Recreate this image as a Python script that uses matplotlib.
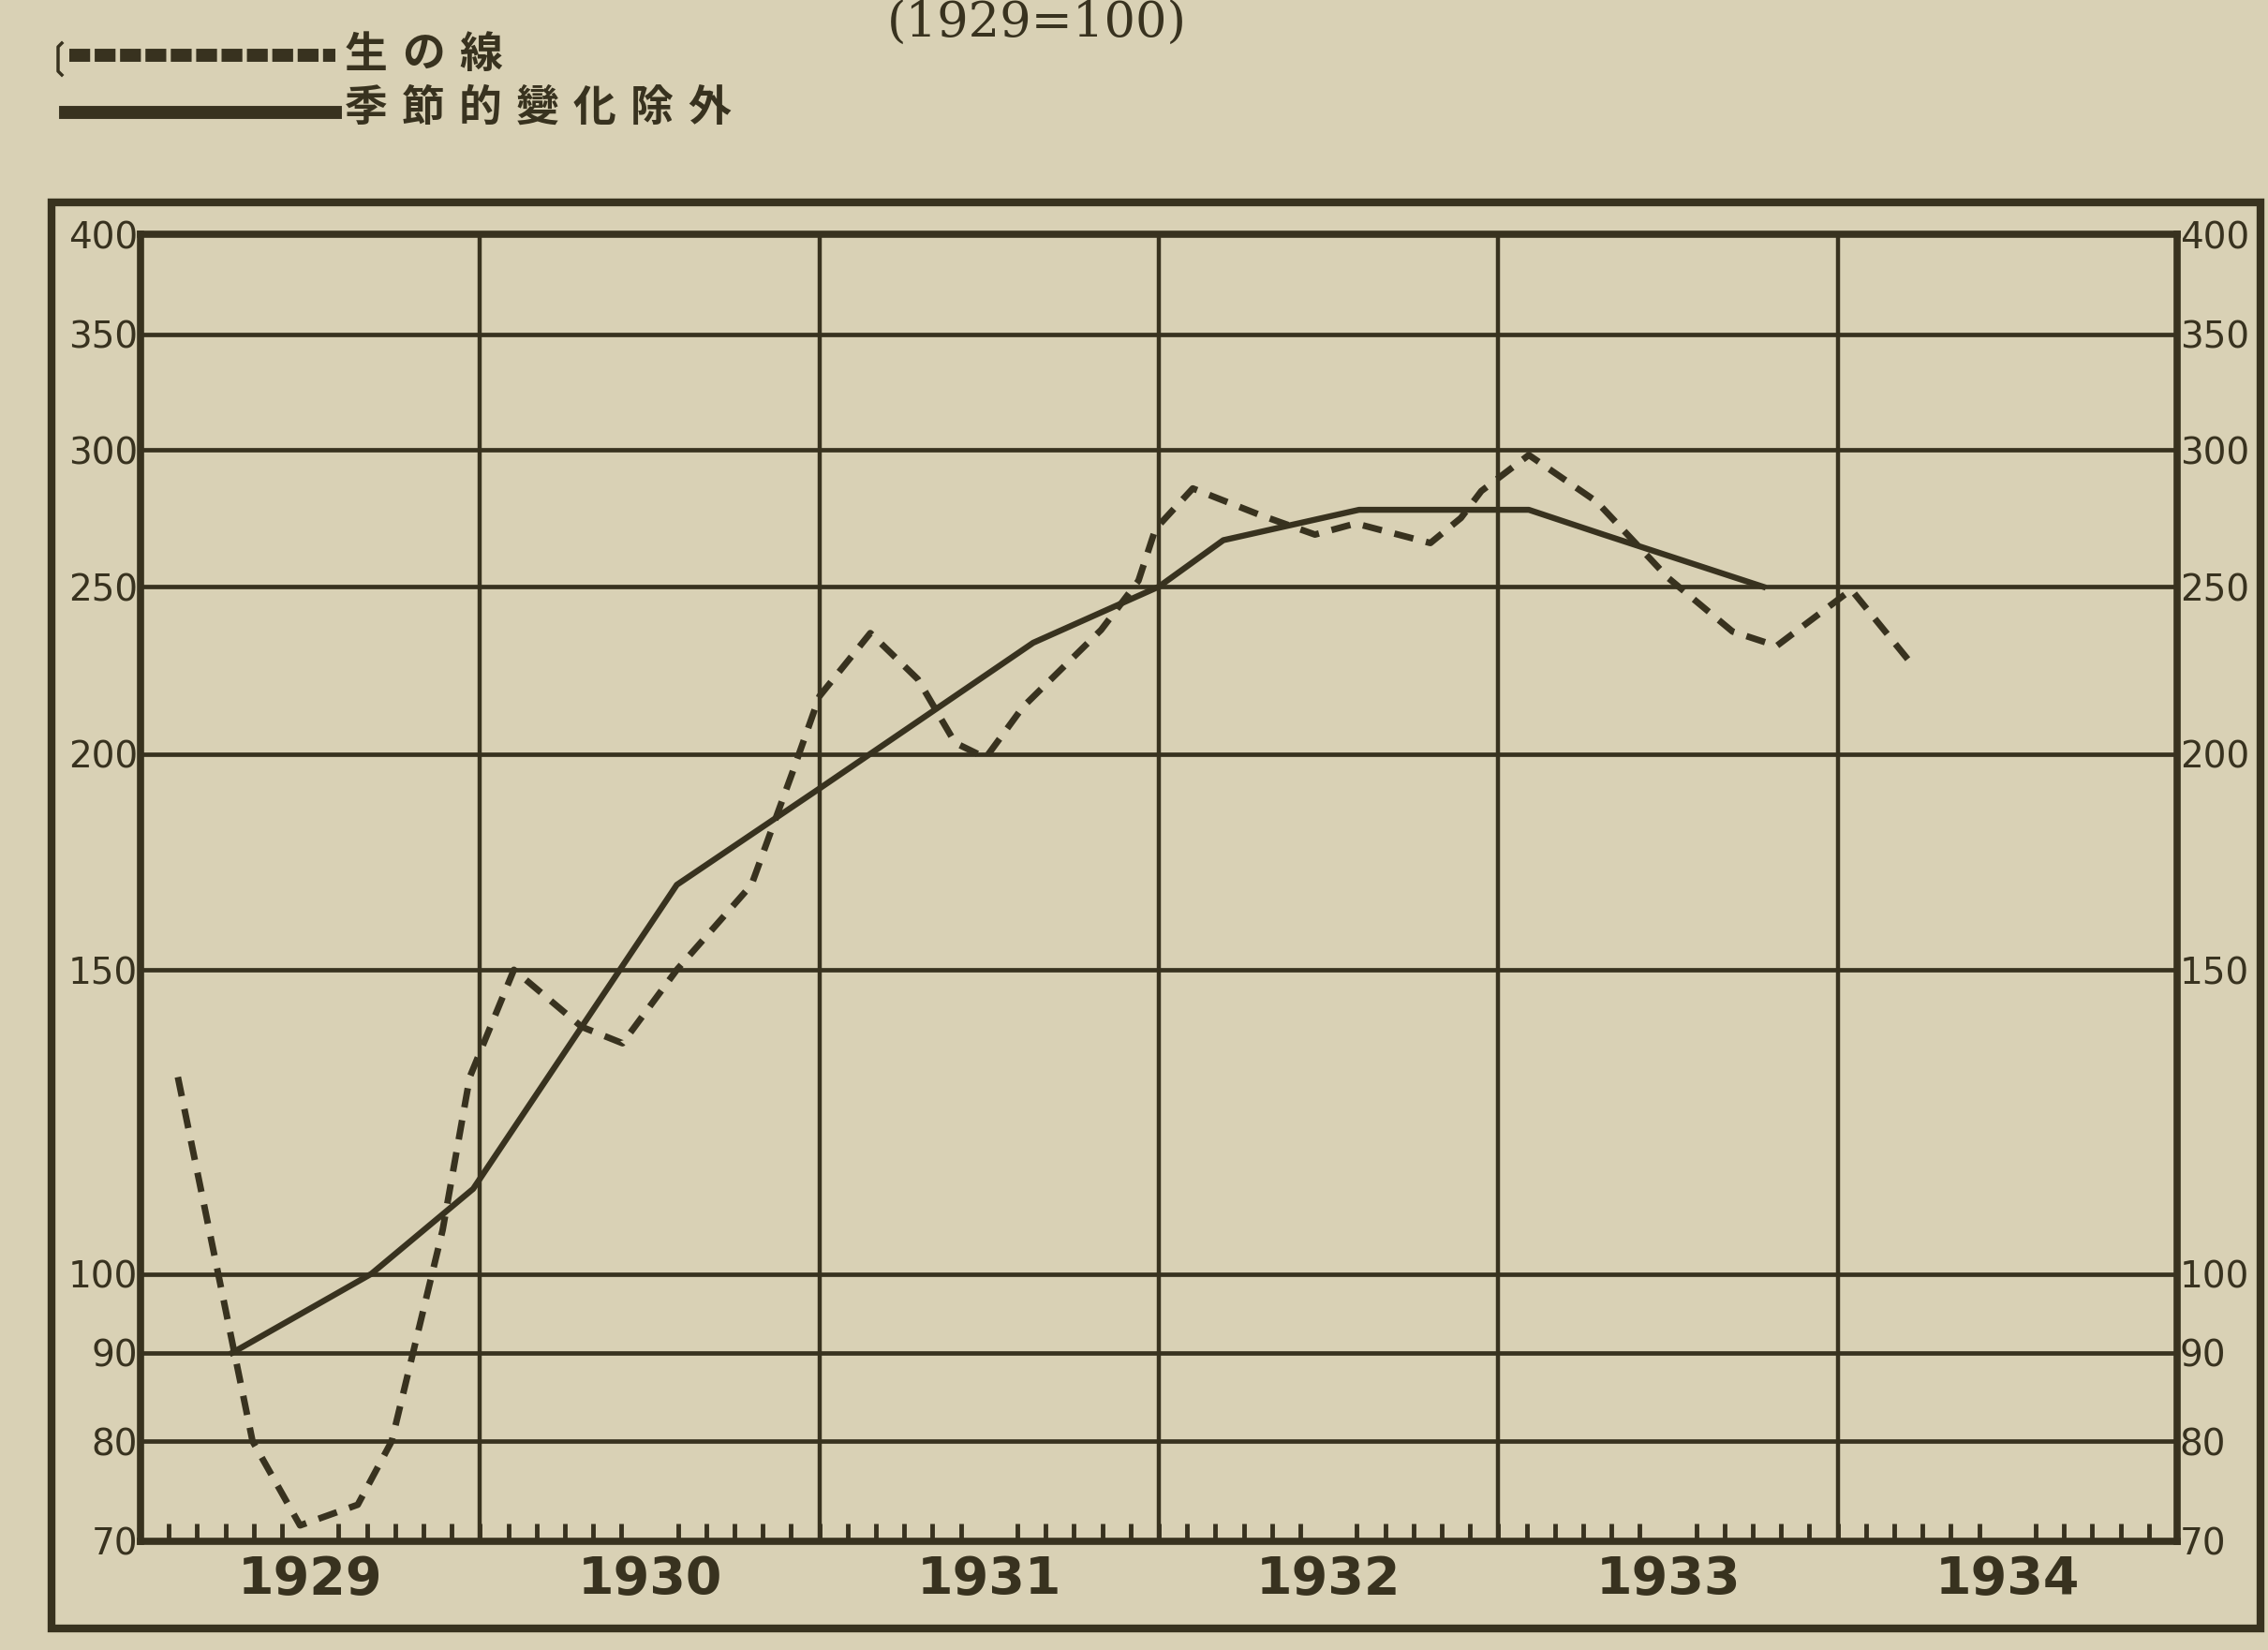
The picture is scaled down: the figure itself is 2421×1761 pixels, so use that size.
import numpy as np
import matplotlib
matplotlib.use('Agg')
import matplotlib.pyplot as plt
from matplotlib.lines import Line2D
from matplotlib.patches import Rectangle
from matplotlib.ticker import NullLocator

# raw series (dashed), x in fractional years
raw_x = [1929.11, 1929.33, 1929.47, 1929.64, 1929.74, 1929.89, 1929.97, 1930.10,
         1930.30, 1930.42, 1930.58, 1930.80, 1930.92, 1931.00, 1931.15, 1931.29,
         1931.40, 1931.49, 1931.60, 1931.83, 1931.94, 1931.99, 1932.10, 1932.30,
         1932.46, 1932.58, 1932.80, 1932.89, 1932.95, 1933.09, 1933.29, 1933.50,
         1933.69, 1933.82, 1934.04, 1934.23]
raw_y = [130, 80, 71.5, 73.5, 80, 106, 130, 150,
         139, 136, 150, 168, 195, 216, 235, 221,
         203, 199, 213, 236, 252, 270, 285, 275,
         268, 272, 265, 274, 284, 298, 280, 253,
         235.5, 231, 249, 224]

# seasonally adjusted series (solid)
adj_x = [1929.27, 1929.68, 1929.98, 1930.58, 1931.00, 1931.63, 1932.00, 1932.19,
         1932.59, 1933.09, 1933.31, 1933.78]
adj_y = [90, 100, 112, 168, 191, 232, 250, 266, 277, 277, 268, 250]

yticks = [70, 80, 90, 100, 150, 200, 250, 300, 350, 400]
years = [1929, 1930, 1931, 1932, 1933, 1934]
legend_labels = ['生の線', '季節的變化除外']
title = '(1929=100)'

W, H = 2421, 1761
def fx(px): return px / W
def fy(py): return 1 - py / H

paper = '#d9d1b5'
ink = '#38321f'

fig = plt.figure(figsize=(24.21, 17.61), dpi=100, facecolor=paper)
ax = fig.add_axes([fx(150), fy(1645), fx(2324) - fx(150), fy(250) - fy(1645)])
ax.set_facecolor(paper)
ax.set_yscale('log')
ax.set_ylim(70, 400)
ax.set_xlim(years[0], years[-1] + 1)

for v in yticks[1:-1]:
    ax.axhline(v, color=ink, lw=3.4, zorder=1)
for yr in years[1:]:
    ax.axvline(yr, color=ink, lw=3.2, zorder=1)

ax.plot(raw_x, raw_y, color=ink, lw=5, dashes=(3, 2), zorder=3)
ax.plot(adj_x, adj_y, color=ink, lw=4.6, zorder=3)

for s in ax.spines.values():
    s.set_color(ink)
    s.set_linewidth(5.5)

ax.set_yticks(yticks)
ax.set_yticklabels([str(v) for v in yticks])
ax.yaxis.set_minor_locator(NullLocator())
ax.tick_params(axis='y', which='both', length=0, labelleft=True, labelright=True,
               labelsize=28, pad=2, labelcolor=ink)

ax.set_xticks([y + 0.5 for y in years])
ax.set_xticklabels([str(y) for y in years], fontweight='bold')
ax.set_xticks(np.arange(years[0], years[-1] + 1, 1 / 12), minor=True)
ax.tick_params(axis='x', which='major', length=0, labelsize=40, pad=10, labelcolor=ink)
ax.tick_params(axis='x', which='minor', direction='in', length=14, width=3.5, color=ink)

# outer frame
fig.add_artist(Rectangle((fx(55), fy(1738)), fx(2413) - fx(55), fy(216) - fy(1738),
                         fill=False, lw=6, edgecolor=ink, transform=fig.transFigure))

# title at the top edge
fig.text(fx(1107), fy(40), title, ha='center', va='baseline', fontsize=38,
         family='DejaVu Serif', color=ink)

# legend drawn by hand
fig.add_artist(Line2D([fx(74), fx(358)], [fy(59), fy(59)], lw=10, color=ink,
                      dashes=(1.6, 0.35)))
fig.add_artist(Line2D([fx(70), fx(358)], [fy(120), fy(120)], lw=10, color=ink))
fig.add_artist(Line2D([fx(66), fx(62), fx(62), fx(66)],
                      [fy(46), fy(50), fy(76), fy(80)], lw=2.5, color=ink))
for row, (label, yy) in enumerate(zip(legend_labels, [59, 116])):
    for i, ch in enumerate(label):
        fig.text(fx(367 + 24 + i * 61), fy(yy), ch, ha='center', va='center',
                 fontsize=33, fontweight='bold',
                 family=['Noto Sans CJK JP', 'DejaVu Sans'], color=ink)

fig.savefig('out.png', dpi=100, facecolor=paper)
